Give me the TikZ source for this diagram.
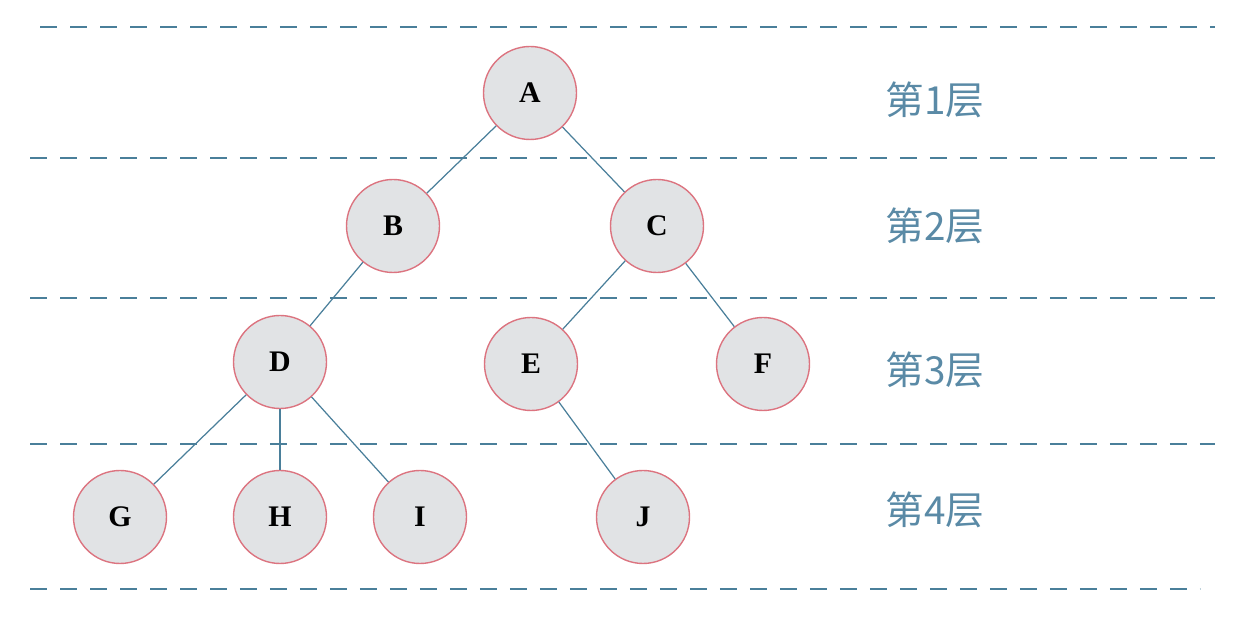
\documentclass[tikz,border=0pt]{standalone}
\usepackage{fontspec}
\setmainfont{Liberation Serif}
\newfontfamily\cjk{Noto Sans CJK SC}
\definecolor{trait}{HTML}{4A7F9A}
\definecolor{bord}{HTML}{DC7480}
\definecolor{fond}{HTML}{E1E3E5}
\definecolor{texte}{HTML}{5A8AA6}
\begin{document}
\begin{tikzpicture}
\tikzset{noeud/.style={draw=bord, line width=0.8pt, fill=fond, circle, minimum size=1.86cm, inner sep=0pt, font=\fontsize{17}{20}\selectfont\bfseries}}
\tikzset{niveau/.style={text=texte, font=\cjk\fontsize{22}{24}\selectfont}}
\tikzset{tiret/.style={draw=trait, line width=1.4pt, dash pattern=on 0.34cm off 0.26cm}}
\useasboundingbox (0, 0) rectangle (25.2, 12.36);
\draw[tiret] (0.8, 11.82) -- (24.3, 11.82);
\draw[tiret] (0.6, 9.2) -- (24.3, 9.2);
\draw[tiret] (0.6, 6.4) -- (24.3, 6.4);
\draw[tiret] (0.6, 3.48) -- (24.3, 3.48);
\draw[tiret] (0.6, 0.58) -- (24.0, 0.58);
\node[noeud] (A) at (10.6, 10.5) {A};
\node[noeud] (B) at (7.86, 7.84) {B};
\node[noeud] (C) at (13.14, 7.84) {C};
\node[noeud] (D) at (5.6, 5.12) {D};
\node[noeud] (E) at (10.62, 5.08) {E};
\node[noeud] (F) at (15.26, 5.08) {F};
\node[noeud] (G) at (2.4, 2.02) {G};
\node[noeud] (H) at (5.6, 2.02) {H};
\node[noeud] (I) at (8.4, 2.02) {I};
\node[noeud] (J) at (12.86, 2.02) {J};
\draw[trait, line width=0.7pt] (A) -- (B);
\draw[trait, line width=0.7pt] (A) -- (C);
\draw[trait, line width=0.7pt] (B) -- (D);
\draw[trait, line width=0.7pt] (C) -- (E);
\draw[trait, line width=0.7pt] (C) -- (F);
\draw[trait, line width=0.7pt] (D) -- (G);
\draw[trait, line width=0.7pt] (D) -- (H);
\draw[trait, line width=0.7pt] (D) -- (I);
\draw[trait, line width=0.7pt] (E) -- (J);
\node[niveau] (N1) at (18.7, 10.36) {第1层};
\node[niveau] (N2) at (18.7, 7.84) {第2层};
\node[niveau] (N3) at (18.7, 4.96) {第3层};
\node[niveau] (N4) at (18.7, 2.16) {第4层};
\end{tikzpicture}
\end{document}
